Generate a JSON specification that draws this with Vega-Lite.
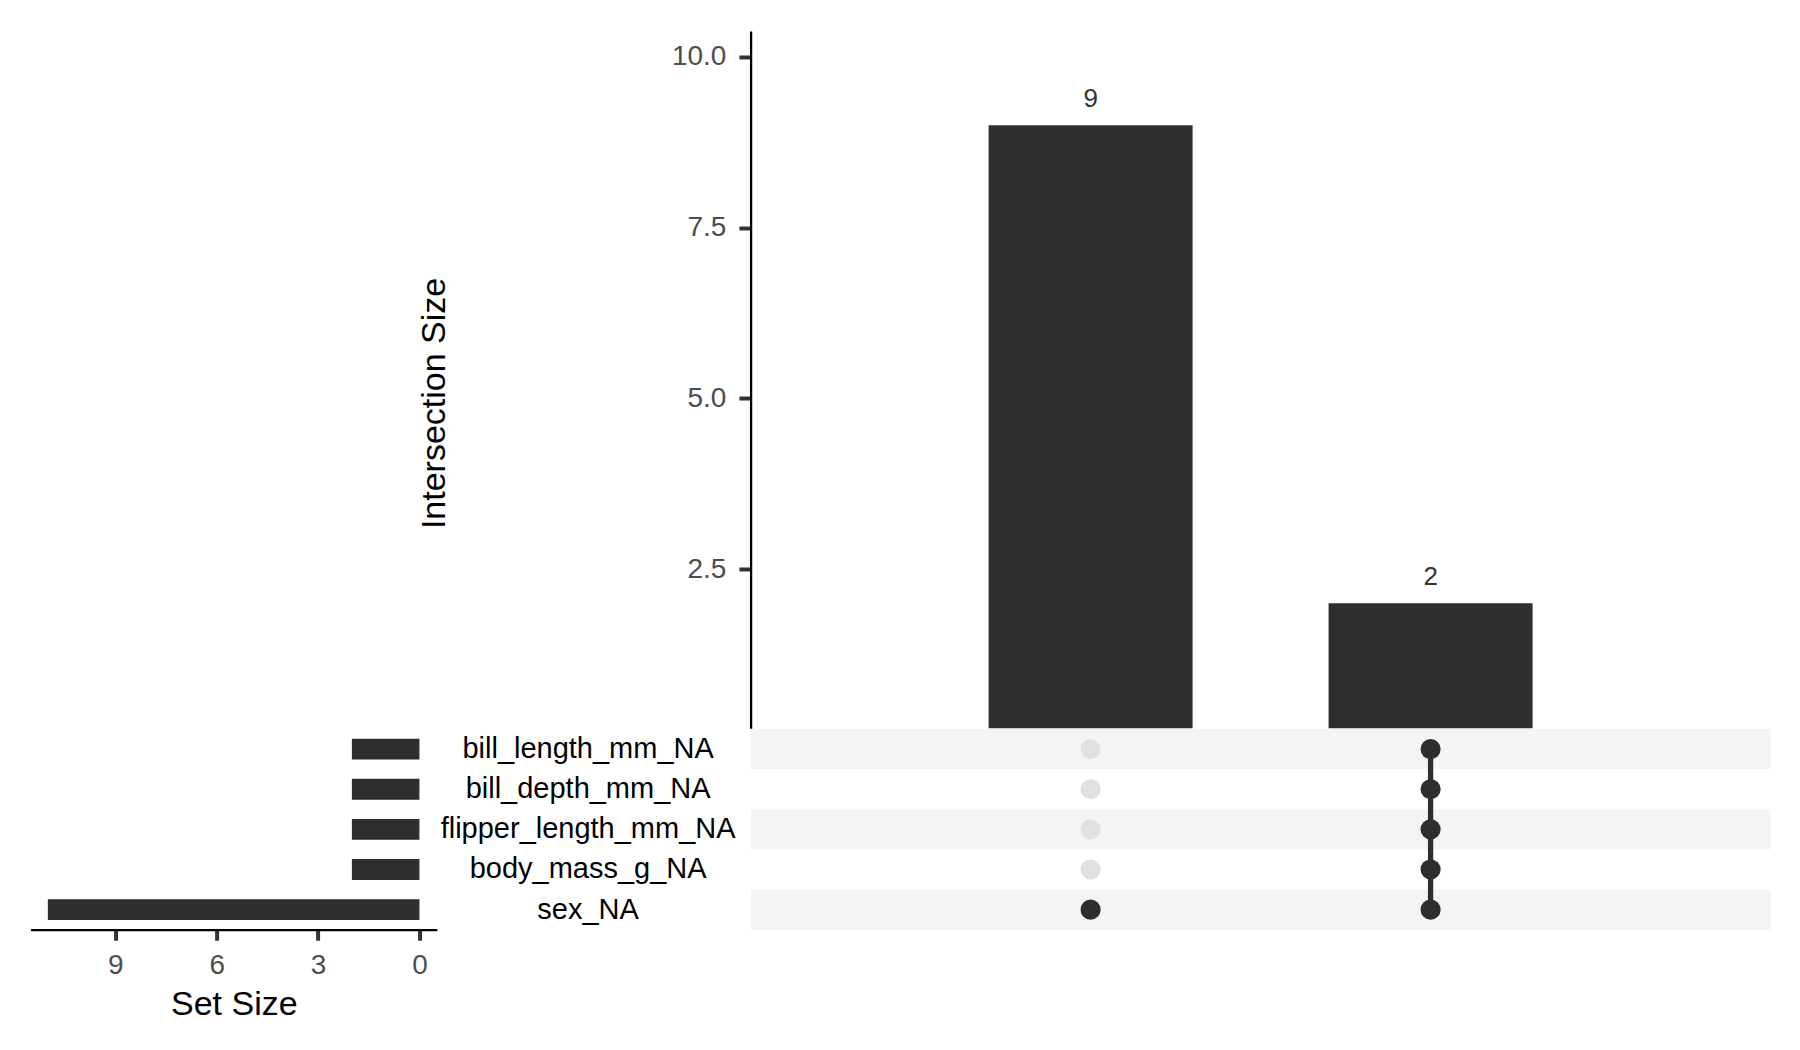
{
  "$schema": "https://vega.github.io/schema/vega-lite/v6.json",
  "description": "UpSet plot of missing values in the penguins data: intersection sizes on top, set sizes on the left, membership matrix below.",
  "background": "white",
  "padding": {"left": 30.6, "top": 31, "right": 0, "bottom": 0},
  "columns": 3,
  "spacing": 0,
  "bounds": "flush",
  "config": {
    "font": "Liberation Sans",
    "view": {"stroke": null, "fill": "white"}
  },
  "datasets": {
    "sets": [
      {"set": "bill_length_mm_NA", "size": 2},
      {"set": "bill_depth_mm_NA", "size": 2},
      {"set": "flipper_length_mm_NA", "size": 2},
      {"set": "body_mass_g_NA", "size": 2},
      {"set": "sex_NA", "size": 11}
    ],
    "intersections": [
      {"id": "I1", "count": 9},
      {"id": "I2", "count": 2}
    ],
    "membership": [
      {"id": "I1", "set": "bill_length_mm_NA", "member": false},
      {"id": "I1", "set": "bill_depth_mm_NA", "member": false},
      {"id": "I1", "set": "flipper_length_mm_NA", "member": false},
      {"id": "I1", "set": "body_mass_g_NA", "member": false},
      {"id": "I1", "set": "sex_NA", "member": true},
      {"id": "I2", "set": "bill_length_mm_NA", "member": true},
      {"id": "I2", "set": "bill_depth_mm_NA", "member": true},
      {"id": "I2", "set": "flipper_length_mm_NA", "member": true},
      {"id": "I2", "set": "body_mass_g_NA", "member": true},
      {"id": "I2", "set": "sex_NA", "member": true}
    ]
  },
  "concat": [
    {
      "width": 406.4,
      "height": 697.3,
      "data": {"values": []},
      "mark": "point"
    },
    {
      "width": 313,
      "height": 697.3,
      "data": {"values": []},
      "mark": "point"
    },
    {
      "width": 1020,
      "height": 697.3,
      "data": {"name": "intersections"},
      "encoding": {
        "x": {
          "field": "id",
          "type": "nominal",
          "sort": null,
          "scale": {"type": "band", "domain": ["I1", "I2"], "paddingInner": 0.4, "paddingOuter": 0.7},
          "axis": null
        },
        "y": {
          "field": "count",
          "type": "quantitative",
          "scale": {"domain": [0.167, 10.38], "nice": false, "zero": false},
          "axis": {
            "values": [0, 2.5, 5, 7.5, 10],
            "format": ".1f",
            "grid": false,
            "labelFontSize": 28,
            "labelColor": "#4D4D4D",
            "labelPadding": 13,
            "labelFlush": false,
            "labelOverlap": false,
            "tickSize": 11.7,
            "tickWidth": 4,
            "tickColor": "#333333",
            "domainColor": "black",
            "domainWidth": 2.3,
            "title": "Intersection Size",
            "titleFontSize": 34,
            "titleFontWeight": "normal",
            "titleColor": "black",
            "titleAngle": -90,
            "titleAlign": "center",
            "titleBaseline": "alphabetic",
            "titleX": -306,
            "titleY": 372
          }
        }
      },
      "layer": [
        {"mark": {"type": "bar", "color": "#2E2E2E", "clip": true}},
        {
          "mark": {"type": "text", "baseline": "middle", "dy": -26, "fontSize": 26, "color": "#333333"},
          "encoding": {"text": {"field": "count", "type": "quantitative"}}
        }
      ]
    },
    {
      "width": 406.4,
      "height": 200.7,
      "data": {"name": "sets"},
      "mark": {"type": "bar", "color": "#2E2E2E"},
      "encoding": {
        "y": {
          "field": "set",
          "type": "nominal",
          "sort": null,
          "scale": {"paddingInner": 0.48, "paddingOuter": 0.24},
          "axis": null
        },
        "x": {
          "field": "size",
          "type": "quantitative",
          "scale": {"domain": [-0.52, 11.51], "nice": false, "zero": false, "reverse": true},
          "axis": {
            "values": [0, 3, 6, 9],
            "grid": false,
            "labelFontSize": 28,
            "labelColor": "#4D4D4D",
            "labelPadding": 11,
            "labelFlush": false,
            "tickSize": 10.5,
            "tickWidth": 4,
            "tickColor": "#333333",
            "domainColor": "black",
            "domainWidth": 2.3,
            "title": "Set Size",
            "titleFontSize": 34,
            "titleFontWeight": "normal",
            "titleColor": "black",
            "titlePadding": 8
          }
        }
      }
    },
    {
      "width": 313,
      "height": 200.7,
      "data": {"name": "sets"},
      "mark": {"type": "text", "fontSize": 29, "color": "black", "align": "center", "baseline": "middle", "dx": -6},
      "encoding": {
        "y": {
          "field": "set",
          "type": "nominal",
          "sort": null,
          "scale": {"paddingInner": 0.48, "paddingOuter": 0.24},
          "axis": null
        },
        "text": {"field": "set", "type": "nominal"}
      }
    },
    {
      "width": 1020,
      "height": 200.7,
      "data": {"name": "membership"},
      "encoding": {
        "y": {
          "field": "set",
          "type": "nominal",
          "sort": null,
          "scale": {"domain": ["bill_length_mm_NA", "bill_depth_mm_NA", "flipper_length_mm_NA", "body_mass_g_NA", "sex_NA"], "paddingInner": 0, "paddingOuter": 0},
          "axis": null
        }
      },
      "layer": [
        {
          "transform": [{"filter": "datum.id === 'I1'"}],
          "mark": {"type": "rect"},
          "encoding": {
            "color": {
              "field": "set",
              "type": "nominal",
              "scale": {
                "domain": ["bill_length_mm_NA", "bill_depth_mm_NA", "flipper_length_mm_NA", "body_mass_g_NA", "sex_NA"],
                "range": ["#F4F4F4", "#FFFFFF", "#F4F4F4", "#FFFFFF", "#F4F4F4"]
              },
              "legend": null
            }
          }
        },
        {
          "transform": [{"filter": "datum.member"}],
          "mark": {"type": "line", "color": "#2E2E2E", "strokeWidth": 5.3},
          "encoding": {
            "x": {
              "field": "id",
              "type": "nominal",
              "sort": null,
              "scale": {"type": "band", "domain": ["I1", "I2"], "paddingInner": 0.4, "paddingOuter": 0.7},
              "axis": null
            },
            "detail": {"field": "id", "type": "nominal"}
          }
        },
        {
          "mark": {"type": "circle", "size": 405, "opacity": 1},
          "encoding": {
            "x": {
              "field": "id",
              "type": "nominal",
              "sort": null,
              "scale": {"type": "band", "domain": ["I1", "I2"], "paddingInner": 0.4, "paddingOuter": 0.7},
              "axis": null
            },
            "fill": {
              "field": "member",
              "type": "nominal",
              "scale": {"domain": [true, false], "range": ["#2E2E2E", "#E0E0E0"]},
              "legend": null
            }
          }
        }
      ],
      "resolve": {"scale": {"color": "independent"}}
    }
  ]
}
